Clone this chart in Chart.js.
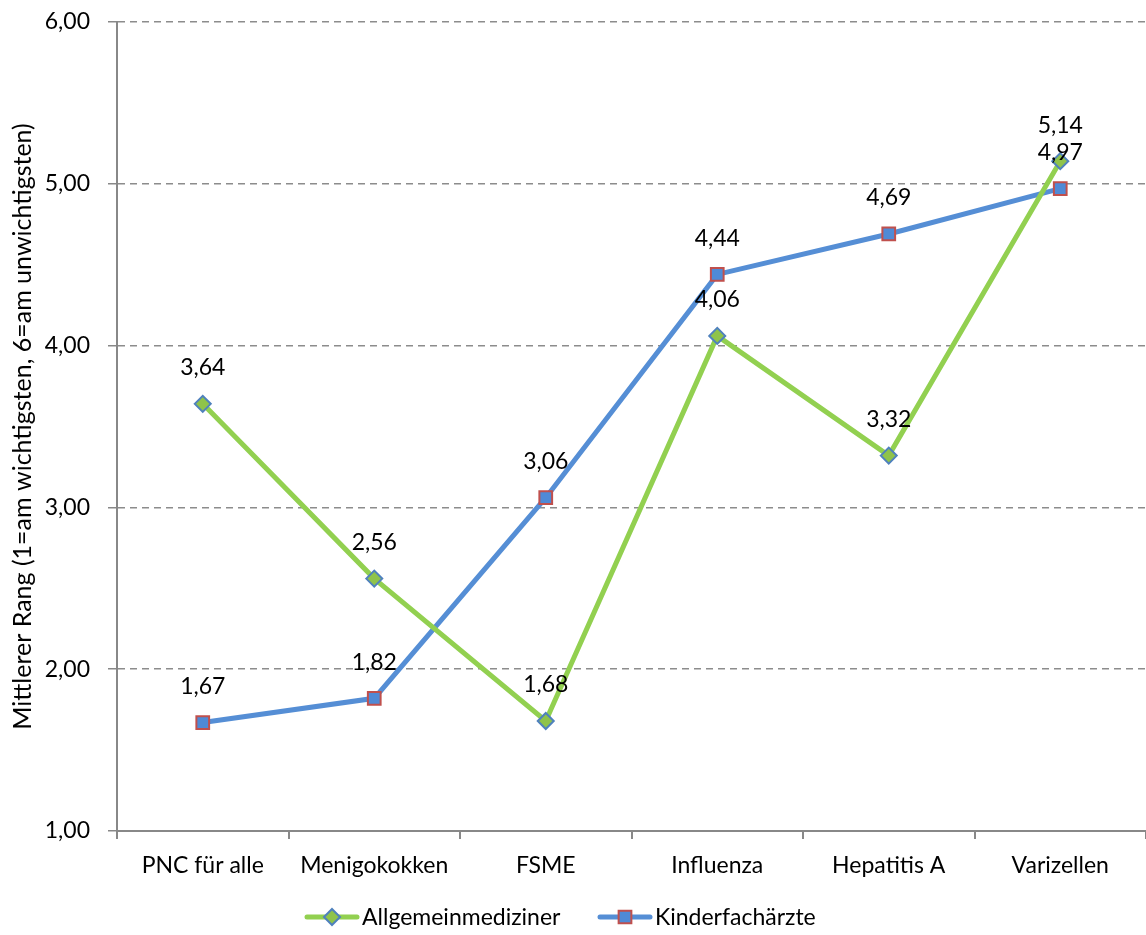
<!DOCTYPE html>
<html>
<head>
<meta charset="utf-8">
<script src="https://cdn.jsdelivr.net/npm/chart.js@4/dist/chart.umd.min.js"></script>
<style>
  html, body { margin: 0; padding: 0; background: #ffffff; }
  #wrap { width: 1146px; height: 935px; }
</style>
</head>
<body>
<div id="wrap"><canvas id="c" width="1146" height="935"></canvas></div>
<script>
const categories = ['PNC für alle', 'Menigokokken', 'FSME', 'Influenza', 'Hepatitis A', 'Varizellen'];
const allgemeinmediziner = [3.64, 2.56, 1.68, 4.06, 3.32, 5.14];
const kinderfachaerzte = [1.67, 1.82, 3.06, 4.44, 4.69, 4.97];
const seriesNames = ['Allgemeinmediziner', 'Kinderfachärzte'];
const yTitle = 'Mittlerer Rang (1=am wichtigsten, 6=am unwichtigsten)';

const FONT = 'Lato, "Open Sans", sans-serif';
const fmt = v => v.toFixed(2).replace('.', ',');

// value labels above every point
const valueLabels = {
  id: 'valueLabels',
  afterDatasetsDraw(chart) {
    const ctx = chart.ctx;
    ctx.save();
    ctx.font = '23px ' + FONT;
    ctx.fillStyle = '#000';
    ctx.textAlign = 'center';
    ctx.textBaseline = 'middle';
    chart.data.datasets.forEach((ds, i) => {
      chart.getDatasetMeta(i).data.forEach((pt, j) => {
        ctx.fillText(fmt(ds.data[j]), pt.x, pt.y - 36);
      });
    });
    ctx.restore();
  }
};

// legend with line + marker samples
const lineLegend = {
  id: 'lineLegend',
  afterDraw(chart) {
    const ctx = chart.ctx;
    const y = 917;
    const items = [
      { x: 307, ds: chart.data.datasets[0] },
      { x: 600, ds: chart.data.datasets[1] }
    ];
    ctx.save();
    items.forEach(it => {
      const ds = it.ds;
      const cx = it.x + 25;
      ctx.strokeStyle = ds.borderColor;
      ctx.lineWidth = 5;
      ctx.lineCap = 'round';
      ctx.beginPath();
      ctx.moveTo(it.x, y);
      ctx.lineTo(it.x + 50, y);
      ctx.stroke();
      ctx.fillStyle = ds.pointBackgroundColor;
      ctx.strokeStyle = ds.pointBorderColor;
      ctx.lineWidth = ds.pointBorderWidth;
      ctx.beginPath();
      if (ds.pointStyle === 'rectRot') {
        const r = ds.pointRadius;
        ctx.moveTo(cx, y - r); ctx.lineTo(cx + r, y);
        ctx.lineTo(cx, y + r); ctx.lineTo(cx - r, y); ctx.closePath();
      } else {
        const h = ds.pointRadius * Math.SQRT1_2;
        ctx.rect(cx - h, y - h, 2 * h, 2 * h);
      }
      ctx.fill(); ctx.stroke();
      ctx.fillStyle = '#000';
      ctx.font = '23px ' + FONT;
      ctx.textAlign = 'left';
      ctx.textBaseline = 'middle';
      ctx.fillText(ds.label, it.x + 55, y + 1);
    });
    ctx.restore();
  }
};

const noEdgePadding = s => { s.paddingLeft = 0; s.paddingRight = 0; s.paddingTop = 0; s.paddingBottom = 0; };

new Chart(document.getElementById('c'), {
  type: 'line',
  data: {
    labels: categories,
    datasets: [
      {
        label: seriesNames[0],
        data: allgemeinmediziner,
        borderColor: '#92D050',
        borderWidth: 5,
        pointStyle: 'rectRot',
        pointRadius: 8,
        pointHoverRadius: 8,
        pointBackgroundColor: '#8FC34A',
        pointBorderColor: '#4F81BD',
        pointBorderWidth: 2,
        tension: 0
      },
      {
        label: seriesNames[1],
        data: kinderfachaerzte,
        borderColor: '#558ED5',
        borderWidth: 5,
        pointStyle: 'rect',
        pointRadius: 9,
        pointHoverRadius: 9,
        pointBackgroundColor: '#4F8AD6',
        pointBorderColor: '#C0504D',
        pointBorderWidth: 2,
        tension: 0
      }
    ]
  },
  options: {
    responsive: false,
    animation: false,
    events: [],
    layout: { autoPadding: false, padding: { top: 22, right: -6, bottom: 0, left: 0 } },
    plugins: {
      legend: { display: false },
      tooltip: { enabled: false }
    },
    scales: {
      x: {
        offset: true,
        grid: { offset: true, drawOnChartArea: false, drawTicks: true, tickLength: 8, color: '#888888', lineWidth: 2 },
        border: { color: '#888888', width: 2 },
        ticks: { color: '#000', font: { family: FONT, size: 23 }, padding: 13, maxRotation: 0 },
        afterFit(s) { s.height = 104; noEdgePadding(s); }
      },
      y: {
        min: 1, max: 6,
        ticks: { stepSize: 1, color: '#000', font: { family: FONT, size: 23 }, padding: 18, callback: v => fmt(v) },
        grid: {
          color: ctx => ctx.tick && ctx.tick.value === 1 ? 'rgba(0,0,0,0)' : '#8C8C8C',
          lineWidth: 1.5,
          tickLength: 9,
          tickColor: '#888888'
        },
        border: { color: '#888888', width: 2, dash: [7, 5] },
        title: { display: true, text: yTitle, color: '#000', font: { family: FONT, size: 25 }, padding: { top: 8, bottom: 8 } },
        afterFit(s) { s.width = 117; noEdgePadding(s); }
      }
    }
  },
  plugins: [valueLabels, lineLegend]
});
</script>
</body>
</html>
